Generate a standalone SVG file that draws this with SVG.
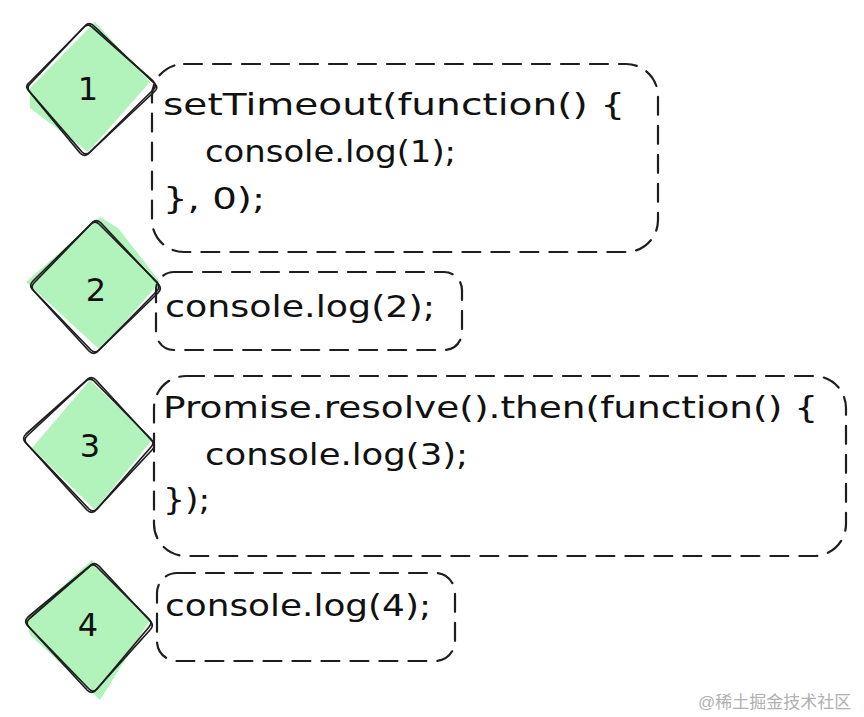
<svg xmlns="http://www.w3.org/2000/svg" width="864" height="717" viewBox="0 0 864 717">
<style>
.bg{fill:#ffffff}
.fill{fill:#b2f2bb;stroke:none}
.edge{fill:none;stroke:#1e1e1e;stroke-width:1.7;stroke-linejoin:round;stroke-linecap:round}
.dash{fill:none;stroke:#1e1e1e;stroke-width:2.2;stroke-dasharray:18 11;stroke-linecap:round}
.code{font-family:"DejaVu Sans","Liberation Sans",sans-serif;font-size:31px;fill:#111111}
.num{font-family:"DejaVu Sans","Liberation Sans",sans-serif;font-size:32px;fill:#111111;text-anchor:middle}
.wm{font-family:"Liberation Sans","Noto Sans CJK SC",sans-serif;font-size:17px;fill:#b0b0b0}
</style>
<rect class="bg" x="0" y="0" width="864" height="717"/>

<g id="connectors"></g>

<g id="node1">
  <polygon class="fill" points="95,22 150,82 88,152 30,108 30,88"/>
  <path class="edge" d="M84,27 Q88,23 92,27 L153,81 Q158,86 153,90 L90,152 Q86,156 82,152 L30,92 Q26,88 30,84 Z"/>
  <path class="edge" d="M86,25 Q90,22 94,26 L155,84 Q159,88 154,92 L88,154 Q84,157 80,153 L28,90 Q25,86 29,83 Z"/>
  <text class="num" x="88" y="100">1</text>
</g>
<g id="box1">
  <rect class="dash" x="152" y="64" width="506" height="188" rx="32"/>
  <text class="code" x="163" y="115" textLength="462" lengthAdjust="spacingAndGlyphs">setTimeout(function() {</text>
  <text class="code" x="205" y="162" textLength="251" lengthAdjust="spacingAndGlyphs">console.log(1);</text>
  <text class="code" x="163" y="209" textLength="102" lengthAdjust="spacingAndGlyphs">}, 0);</text>
</g>

<g id="node2">
  <polygon class="fill" points="100,217 118,228 160,282 100,350 35,290 26,282"/>
  <path class="edge" d="M91,224 Q95,220 99,224 L157,282 Q161,287 157,291 L99,350 Q95,354 91,350 L34,291 Q30,287 34,283 Z"/>
  <path class="edge" d="M93,222 Q97,219 101,223 L159,285 Q162,289 158,293 L97,352 Q93,355 89,351 L32,289 Q29,285 33,281 Z"/>
  <text class="num" x="96" y="301">2</text>
</g>
<g id="box2">
  <rect class="dash" x="156" y="272" width="306" height="78" rx="18"/>
  <text class="code" x="165" y="317" textLength="270" lengthAdjust="spacingAndGlyphs">console.log(2);</text>
</g>

<g id="node3">
  <polygon class="fill" points="90,380 152,440 95,510 32,448"/>
  <path class="edge" d="M86,381 Q90,377 94,381 L151,439 Q155,443 151,447 L97,509 Q93,513 89,509 L27,444 Q23,440 27,436 Z"/>
  <path class="edge" d="M88,379 Q92,376 96,380 L153,442 Q156,446 152,450 L95,511 Q91,514 87,510 L25,442 Q22,438 26,434 Z"/>
  <text class="num" x="90" y="457">3</text>
</g>
<g id="box3">
  <rect class="dash" x="154" y="376" width="692" height="180" rx="32"/>
  <text class="code" x="163" y="418" textLength="655" lengthAdjust="spacingAndGlyphs">Promise.resolve().then(function() {</text>
  <text class="code" x="205" y="465" textLength="263" lengthAdjust="spacingAndGlyphs">console.log(3);</text>
  <text class="code" x="163" y="510" textLength="47" lengthAdjust="spacingAndGlyphs">});</text>
</g>

<g id="node4">
  <polygon class="fill" points="92,560 150,620 100,700 30,635 27,618"/>
  <path class="edge" d="M89,567 Q93,563 97,567 L149,619 Q153,623 149,627 L97,689 Q93,693 89,689 L29,627 Q25,623 29,619 Z"/>
  <path class="edge" d="M91,565 Q95,562 99,566 L151,622 Q154,626 150,630 L95,691 Q91,694 87,690 L27,625 Q24,621 28,617 Z"/>
  <text class="num" x="88" y="636">4</text>
</g>
<g id="box4">
  <rect class="dash" x="157" y="573" width="298" height="88" rx="20"/>
  <text class="code" x="165" y="616" textLength="266" lengthAdjust="spacingAndGlyphs">console.log(4);</text>
</g>

<text class="wm" x="698" y="708">@稀土掘金技术社区</text>
</svg>
